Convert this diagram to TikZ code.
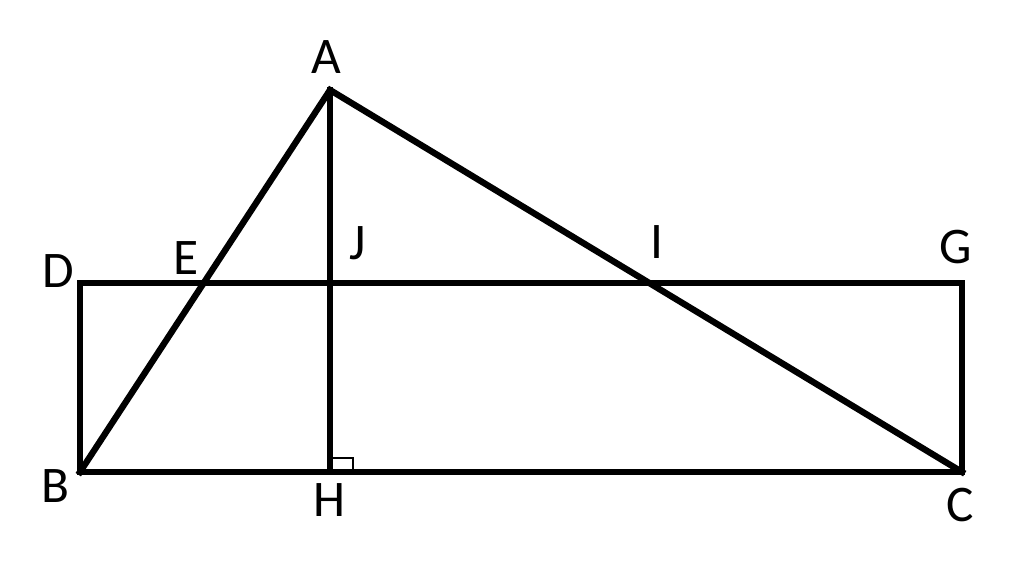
\documentclass[tikz,border=0pt]{standalone}
\usepackage{fontspec}
\setmainfont{Carlito}
\begin{document}
\begin{tikzpicture}[x=0.01cm,y=-0.01cm,
  seg/.style={line width=1.8pt,line join=miter,line cap=rect},
  lbl/.style={inner sep=0pt,font=\fontsize{14.6}{17}\selectfont},
  ramark/.style={line width=0.7pt}]
\useasboundingbox (0,0) rectangle (1024,569);
\coordinate (A) at (330,90);
\coordinate (B) at (80,472);
\coordinate (C) at (962,472);
\coordinate (H) at (330,472);
\coordinate (D) at (80,283);
\coordinate (G) at (962,283);
\coordinate (m1) at (353,458);
\coordinate (m0) at (330,458);
\coordinate (m2) at (353,472);
% rectangle
\draw[seg] (B) -- (D) -- (G) -- (C) -- cycle;
% triangle
\draw[seg] (B) -- (A) -- (C);
% altitude
\draw[seg] (A) -- (H);
% right angle mark
\draw[ramark] (m0) -- (m1) -- (m2);
% labels
\node[lbl] (lA) at (326,57) {A};
\node[lbl] (lD) at (58,271) {D};
\node[lbl] (lE) at (186,258) {E};
\node[lbl] (lJ) at (358,243) {J};
\node[lbl] (lI) at (657,242) {I};
\node[lbl] (lG) at (956,247) {G};
\node[lbl] (lB) at (55,486) {B};
\node[lbl] (lH) at (329,500) {H};
\node[lbl] (lC) at (960,505) {C};
\end{tikzpicture}
\end{document}
